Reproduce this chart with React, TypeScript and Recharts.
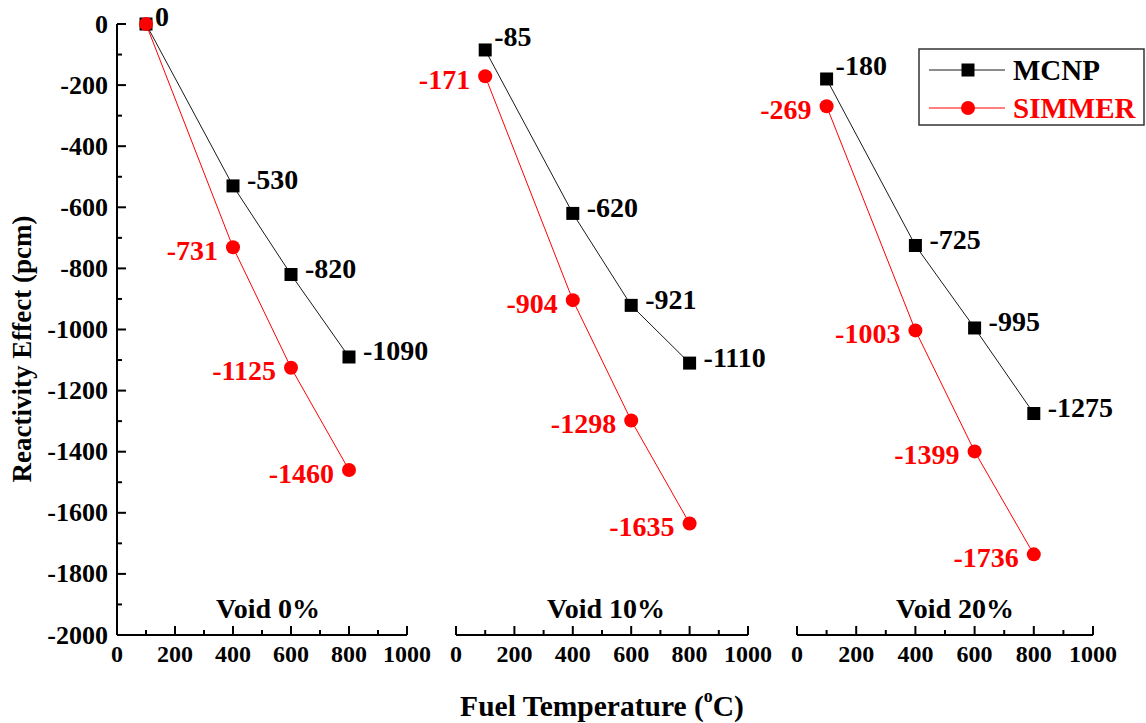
import React from 'react';
import { LineChart, Line, XAxis, YAxis, LabelList } from 'recharts';

// Fuel temperatures (ºC) at which reactivity was evaluated
const temps = [100, 400, 600, 800];

// Reactivity effect (pcm) per void fraction
const mcnpVoid0 = [0, -530, -820, -1090];
const simmerVoid0 = [0, -731, -1125, -1460];
const mcnpVoid10 = [-85, -620, -921, -1110];
const simmerVoid10 = [-171, -904, -1298, -1635];
const mcnpVoid20 = [-180, -725, -995, -1275];
const simmerVoid20 = [-269, -1003, -1399, -1736];

const panelTitles = ['Void 0%', 'Void 10%', 'Void 20%'];
const seriesNames = ['MCNP', 'SIMMER'];

const xTicks = [0, 100, 200, 300, 400, 500, 600, 700, 800, 900, 1000];
const yTicks = [
  -2000, -1900, -1800, -1700, -1600, -1500, -1400, -1300, -1200, -1100, -1000,
  -900, -800, -700, -600, -500, -400, -300, -200, -100, 0,
];

const FONT = '"Liberation Serif", "Times New Roman", serif';
const BLACK = '#1a1a1a';
const RED = '#ff0000';
const TOP_SHIFT = 30;
const CHART_H = 705;
const X_AXIS_H = 40;
const LABEL_SIZE = 28;

const buildRows = (mcnp: number[], simmer: number[]) =>
  temps.map((t, i) => ({ temp: t, mcnp: mcnp[i], simmer: simmer[i] }));

const panels = [
  { rows: buildRows(mcnpVoid0, simmerVoid0), title: panelTitles[0], left: 0, marginLeft: 0, plotW: 290, showY: true },
  { rows: buildRows(mcnpVoid10, simmerVoid10), title: panelTitles[1], left: 406, marginLeft: 50, plotW: 292, showY: false },
  { rows: buildRows(mcnpVoid20, simmerVoid20), title: panelTitles[2], left: 747, marginLeft: 50, plotW: 296, showY: false },
];

// Ticks point inward; only every other tick carries a label
const YTick = (props: any) => {
  const { x, y, payload } = props;
  const v = payload.value as number;
  const major = v % 200 === 0;
  const ax = x + 9;
  return (
    <g>
      <line x1={ax} x2={ax + (major ? 9 : 5)} y1={y} y2={y} stroke="#000" strokeWidth={2} />
      {major && (
        <text x={x} y={y} textAnchor="end" dominantBaseline="central" fontFamily={FONT} fontWeight="bold" fontSize={26} fill="#000">
          {v}
        </text>
      )}
    </g>
  );
};

const XTick = (props: any) => {
  const { x, y, payload } = props;
  const v = payload.value as number;
  const major = v % 200 === 0;
  return (
    <g>
      <line x1={x} x2={x} y1={y} y2={y - (major ? 9 : 5)} stroke="#000" strokeWidth={2} />
      {major && (
        <text x={x} y={y + 19} textAnchor="middle" dominantBaseline="central" fontFamily={FONT} fontWeight="bold" fontSize={24} fill="#000">
          {v}
        </text>
      )}
    </g>
  );
};

const SquareDot = (props: any) => {
  const { cx, cy, index } = props;
  if (cx == null || cy == null) return <g key={`sq-${index}`} />;
  return <rect key={`sq-${index}`} x={cx - 6.5} y={cy - 6.5} width={13} height={13} fill="#000" />;
};

const McnpLabel = (props: any) => {
  const { x, y, value, index } = props;
  const first = index === 0;
  // first point's label sits above-right, kept inside the drawing area
  const ty = first ? Math.max(y - 13, TOP_SHIFT + 16) : y - 6;
  return (
    <text x={x + (first ? 9 : 14)} y={ty} textAnchor="start" dominantBaseline="central" fontFamily={FONT} fontWeight="bold" fontSize={LABEL_SIZE} fill="#000">
      {value}
    </text>
  );
};

const makeSimmerLabel = (rows: { mcnp: number; simmer: number }[]) => (props: any) => {
  const { x, y, value, index } = props;
  // coincident points share the MCNP label
  if (rows[index] && rows[index].mcnp === rows[index].simmer) return null;
  return (
    <text x={x - 15} y={y + 3} textAnchor="end" dominantBaseline="central" fontFamily={FONT} fontWeight="bold" fontSize={LABEL_SIZE} fill={RED}>
      {value}
    </text>
  );
};

const Panel = ({ p }: { p: (typeof panels)[number] }) => {
  const marginRight = 70;
  const width = p.marginLeft + (p.showY ? 117 : 0) + p.plotW + marginRight;
  return (
    <div style={{ position: 'absolute', left: p.left, top: -TOP_SHIFT }}>
      <LineChart
        width={width}
        height={CHART_H}
        data={p.rows}
        margin={{ top: 24 + TOP_SHIFT, right: marginRight, bottom: 0, left: p.marginLeft }}
      >
        <XAxis
          dataKey="temp"
          type="number"
          domain={[0, 1000]}
          ticks={xTicks}
          interval={0}
          height={X_AXIS_H}
          tickSize={0}
          tickMargin={0}
          tickLine={false}
          tick={<XTick />}
          axisLine={{ stroke: '#000', strokeWidth: 2 }}
        />
        <YAxis
          type="number"
          domain={[-2000, 0]}
          ticks={yTicks}
          interval={0}
          width={117}
          hide={!p.showY}
          tickSize={0}
          tickMargin={9}
          tickLine={false}
          tick={<YTick />}
          axisLine={{ stroke: '#000', strokeWidth: 2 }}
        />
        <Line
          type="linear"
          dataKey="mcnp"
          name={seriesNames[0]}
          stroke={BLACK}
          strokeWidth={1}
          dot={SquareDot}
          activeDot={false}
          isAnimationActive={false}
        >
          <LabelList dataKey="mcnp" content={McnpLabel} />
        </Line>
        <Line
          type="linear"
          dataKey="simmer"
          name={seriesNames[1]}
          stroke={RED}
          strokeWidth={1}
          dot={{ r: 7, fill: RED, stroke: RED, strokeWidth: 0 }}
          activeDot={false}
          isAnimationActive={false}
        >
          <LabelList dataKey="simmer" content={makeSimmerLabel(p.rows)} />
        </Line>
      </LineChart>
    </div>
  );
};

const voidLabelX = [268, 606, 955];

export default function App() {
  return (
    <div style={{ position: 'absolute', left: 0, top: 0, width: 1146, height: 723, background: '#fff', overflow: 'hidden' }}>
      {panels.map((p, i) => (
        <Panel key={i} p={p} />
      ))}
      <svg width={1146} height={723} style={{ position: 'absolute', left: 0, top: 0, pointerEvents: 'none' }}>
        {panels.map((p, i) => (
          <text key={i} x={voidLabelX[i]} y={608} textAnchor="middle" dominantBaseline="central" fontFamily={FONT} fontWeight="bold" fontSize={28} fill="#000">
            {p.title}
          </text>
        ))}
        <text
          x={22}
          y={349}
          transform="rotate(-90 22 349)"
          textAnchor="middle"
          dominantBaseline="central"
          fontFamily={FONT}
          fontWeight="bold"
          fontSize={27}
          fill="#000"
        >
          Reactivity Effect (pcm)
        </text>
        <text x={602} y={706} textAnchor="middle" dominantBaseline="central" fontFamily={FONT} fontWeight="bold" fontSize={29.5} fill="#000">
          Fuel Temperature (
          <tspan fontSize={18} dy={-10}>o</tspan>
          <tspan dy={10}>C)</tspan>
        </text>
        <g>
          <rect x={919} y={49} width={225} height={76} fill="#fff" stroke="#333" strokeWidth={1.5} />
          <line x1={929} x2={1005} y1={70} y2={70} stroke={BLACK} strokeWidth={1} />
          <rect x={968 - 6.5} y={70 - 6.5} width={13} height={13} fill="#000" />
          <text x={1013} y={70} dominantBaseline="central" fontFamily={FONT} fontWeight="bold" fontSize={29} fill="#000">
            {seriesNames[0]}
          </text>
          <line x1={929} x2={1005} y1={108} y2={108} stroke={RED} strokeWidth={1} />
          <circle cx={968} cy={108} r={7} fill={RED} />
          <text x={1013} y={108} dominantBaseline="central" fontFamily={FONT} fontWeight="bold" fontSize={29} fill={RED}>
            {seriesNames[1]}
          </text>
        </g>
      </svg>
    </div>
  );
}
